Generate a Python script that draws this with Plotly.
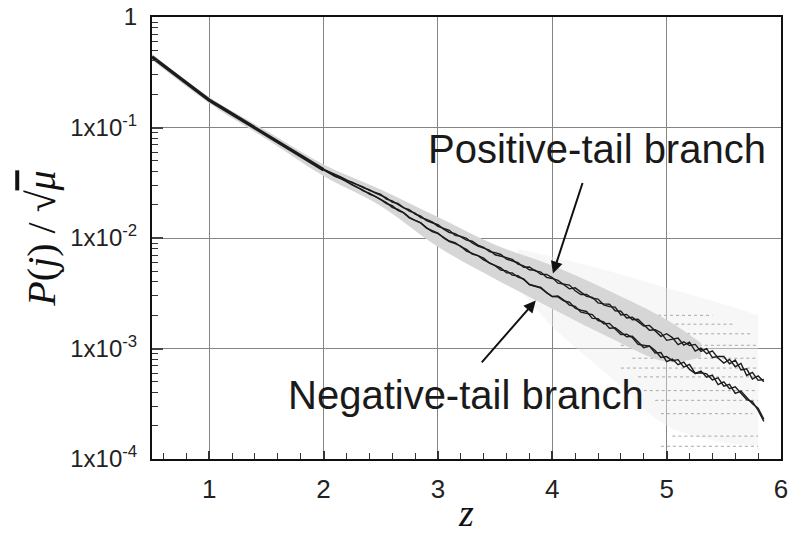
import plotly.graph_objects as go

# ---------------- data (log10 of P(j)/sqrt(mu)) ----------------
z_trunk = [0.5, 0.6, 0.7, 0.8, 0.9, 1.0, 1.1, 1.2, 1.3, 1.4, 1.5, 1.6, 1.7, 1.8, 1.9, 2.0]
lg_trunk = [-0.360, -0.438, -0.517, -0.595, -0.674, -0.752, -0.815, -0.878, -0.942,
            -1.005, -1.068, -1.130, -1.193, -1.255, -1.318, -1.382]

z_branch = [2.00, 2.05, 2.10, 2.15, 2.20, 2.25, 2.30, 2.35, 2.40, 2.45,
            2.50, 2.55, 2.60, 2.65, 2.70, 2.75, 2.80, 2.85, 2.90, 2.95,
            3.00, 3.05, 3.10, 3.15, 3.20, 3.25, 3.30, 3.35, 3.40, 3.45,
            3.50, 3.55, 3.60, 3.65, 3.70, 3.75, 3.80, 3.85, 3.90, 3.95,
            4.00, 4.05, 4.10, 4.15, 4.20, 4.25, 4.30, 4.35, 4.40, 4.45,
            4.50, 4.55, 4.60, 4.65, 4.70, 4.75, 4.80, 4.85, 4.90, 4.95,
            5.00, 5.05, 5.10, 5.15, 5.20, 5.25, 5.30, 5.35, 5.40, 5.45,
            5.50, 5.55, 5.60, 5.65, 5.70, 5.75, 5.80, 5.85]

lg_pos_a = [-1.380, -1.401, -1.429, -1.446, -1.474, -1.501, -1.519, -1.540, -1.569, -1.590,
            -1.605, -1.649, -1.664, -1.696, -1.728, -1.744, -1.783, -1.803, -1.843, -1.862,
            -1.880, -1.920, -1.950, -1.960, -1.990, -2.019, -2.029, -2.064, -2.084, -2.124,
            -2.133, -2.149, -2.191, -2.207, -2.224, -2.265, -2.262, -2.298, -2.308, -2.356,
            -2.366, -2.384, -2.426, -2.460, -2.451, -2.486, -2.528, -2.537, -2.587, -2.596,
            -2.599, -2.658, -2.663, -2.724, -2.718, -2.757, -2.796, -2.791, -2.841, -2.890,
            -2.866, -2.901, -2.965, -2.939, -2.973, -2.963, -3.027, -3.002, -3.082, -3.072,
            -3.072, -3.138, -3.105, -3.195, -3.184, -3.276, -3.248, -3.300]

lg_pos_b = [-1.380, -1.405, -1.425, -1.450, -1.478, -1.495, -1.521, -1.546, -1.563, -1.592,
            -1.613, -1.637, -1.676, -1.688, -1.724, -1.756, -1.775, -1.815, -1.831, -1.854,
            -1.895, -1.915, -1.930, -1.975, -1.985, -2.004, -2.044, -2.074, -2.089, -2.109,
            -2.152, -2.162, -2.178, -2.194, -2.237, -2.252, -2.288, -2.292, -2.328, -2.330,
            -2.358, -2.409, -2.417, -2.426, -2.477, -2.511, -2.511, -2.545, -2.553, -2.605,
            -2.621, -2.625, -2.696, -2.691, -2.740, -2.735, -2.785, -2.835, -2.830, -2.857,
            -2.926, -2.916, -2.905, -2.969, -2.943, -3.023, -2.997, -3.047, -3.022, -3.087,
            -3.132, -3.098, -3.165, -3.135, -3.244, -3.216, -3.288, -3.280]

lg_neg_a = [-1.381, -1.412, -1.442, -1.463, -1.487, -1.520, -1.545, -1.568, -1.602, -1.623,
            -1.652, -1.688, -1.707, -1.750, -1.773, -1.817, -1.840, -1.863, -1.906, -1.942,
            -1.960, -1.994, -2.027, -2.041, -2.079, -2.103, -2.146, -2.160, -2.183, -2.227,
            -2.250, -2.271, -2.316, -2.316, -2.355, -2.369, -2.421, -2.434, -2.454, -2.494,
            -2.530, -2.524, -2.561, -2.607, -2.618, -2.671, -2.682, -2.693, -2.747, -2.759,
            -2.817, -2.812, -2.852, -2.893, -2.889, -2.941, -2.992, -2.978, -3.018, -3.081,
            -3.073, -3.110, -3.101, -3.168, -3.144, -3.226, -3.219, -3.230, -3.285, -3.266,
            -3.341, -3.324, -3.407, -3.385, -3.442, -3.500, -3.540, -3.640]

lg_neg_b = [-1.383, -1.412, -1.440, -1.461, -1.493, -1.518, -1.543, -1.576, -1.594, -1.625,
            -1.656, -1.680, -1.723, -1.742, -1.769, -1.813, -1.840, -1.863, -1.910, -1.930,
            -1.955, -1.999, -2.032, -2.051, -2.074, -2.118, -2.136, -2.160, -2.198, -2.227,
            -2.250, -2.290, -2.297, -2.336, -2.342, -2.376, -2.421, -2.434, -2.447, -2.494,
            -2.530, -2.533, -2.569, -2.581, -2.635, -2.654, -2.665, -2.727, -2.730, -2.776,
            -2.773, -2.823, -2.874, -2.871, -2.900, -2.963, -2.970, -2.978, -3.040, -3.037,
            -3.118, -3.095, -3.146, -3.123, -3.189, -3.226, -3.204, -3.260, -3.240, -3.326,
            -3.301, -3.364, -3.347, -3.405, -3.462, -3.480, -3.560, -3.660]

# dense scatter cloud envelope
z_cloud = [0.5, 1.0, 1.5, 2.0, 2.5, 3.0, 3.5, 4.0, 4.5, 5.0, 5.3]
lg_cloud_hi = [-0.335, -0.725, -1.030, -1.335, -1.560, -1.810, -2.060, -2.250, -2.480, -2.740, -2.950]
lg_cloud_lo = [-0.390, -0.780, -1.105, -1.440, -1.710, -2.080, -2.370, -2.640, -2.900, -3.120, -3.080]

# sparse tail cloud envelope
z_sparse = [3.7, 4.0, 4.5, 5.0, 5.5, 5.8]
lg_sparse_hi = [-2.10, -2.17, -2.30, -2.45, -2.60, -2.70]
lg_sparse_lo = [-2.45, -2.80, -3.25, -3.70, -3.85, -3.88]

# horizontal streaks of discrete values in the tail (level, z start, z end)
streak_lg = [-2.700, -2.780, -2.867, -2.971, -3.088, -3.177, -3.257, -3.381, -3.469, -3.590, -3.793, -3.885]
streak_z0 = [4.40, 4.50, 4.55, 4.60, 4.70, 4.60, 4.75, 4.80, 4.90, 4.95, 5.05, 4.95]
streak_z1 = [5.40, 5.60, 5.75, 5.78, 5.80, 5.80, 5.80, 5.80, 5.80, 5.75, 5.80, 5.80]

# y tick decades
y_decades = [-4, -3, -2, -1, 0]
y_ticktext = ["1x10<sup>-4</sup>", "1x10<sup>-3</sup>", "1x10<sup>-2</sup>", "1x10<sup>-1</sup>", "1"]

# annotations (z, log10 P)
pos_label = ("Positive-tail branch", 4.388, -1.195)
neg_label = ("Negative-tail branch", 3.245, -3.420)
pos_arrow = (4.006, -2.321, 4.269, -1.489)   # tip z, tip lg, tail z, tail lg
neg_arrow = (3.856, -2.566, 3.372, -3.139)


def p(vals):
    return [10 ** v for v in vals]


fig = go.Figure()

# sparse cloud
fig.add_trace(go.Scatter(x=z_sparse, y=p(lg_sparse_hi), mode="lines", line_shape="spline",
                         line=dict(width=0), hoverinfo="skip", showlegend=False))
fig.add_trace(go.Scatter(x=z_sparse, y=p(lg_sparse_lo), mode="lines", fill="tonexty",
                         line_shape="spline", fillcolor="rgba(236,236,236,0.4)",
                         line=dict(width=0), hoverinfo="skip", showlegend=False))
# streaks
sx, sy = [], []
for lv, a, b in zip(streak_lg, streak_z0, streak_z1):
    sx += [a, b, None]
    sy += [10 ** lv, 10 ** lv, None]
fig.add_trace(go.Scatter(x=sx, y=sy, mode="lines",
                         line=dict(color="#a8a8a8", width=1, dash="dot"),
                         hoverinfo="skip", showlegend=False))
# dense cloud
fig.add_trace(go.Scatter(x=z_cloud, y=p(lg_cloud_hi), mode="lines", line_shape="spline",
                         line=dict(width=0), hoverinfo="skip", showlegend=False))
fig.add_trace(go.Scatter(x=z_cloud, y=p(lg_cloud_lo), mode="lines", fill="tonexty",
                         line_shape="spline", fillcolor="#d6d6d6", line=dict(width=0),
                         hoverinfo="skip", showlegend=False))

line_col = "#1c1c1c"
fig.add_trace(go.Scatter(x=z_trunk, y=p(lg_trunk), mode="lines",
                         line=dict(color=line_col, width=3.4), showlegend=False))
for arr in (lg_pos_a, lg_pos_b, lg_neg_a, lg_neg_b):
    fig.add_trace(go.Scatter(x=z_branch, y=p(arr), mode="lines",
                             line=dict(color=line_col, width=1.4), showlegend=False))

label_font = dict(family="Liberation Sans, Arial, sans-serif", size=40, color="#1a1a1a")
annotations = []
for text, zx, lg in (pos_label, neg_label):
    annotations.append(dict(x=zx, y=lg, xref="x", yref="y", text=text, showarrow=False,
                            font=label_font, xanchor="center", yanchor="middle"))
for tz, tl, az, al in (pos_arrow, neg_arrow):
    annotations.append(dict(x=tz, y=tl, xref="x", yref="y", ax=az, ay=al,
                            axref="x", ayref="y", text="", showarrow=True,
                            arrowhead=2, arrowsize=1.2, arrowwidth=2, arrowcolor="#111",
                            standoff=0, startstandoff=0))

tick_font = dict(family="Liberation Sans, Arial, sans-serif", size=24, color="#222")
title_font = dict(family="Liberation Serif, Times New Roman, serif", size=40, color="#111")

fig.update_layout(
    width=791, height=534,
    margin=dict(l=152, r=3, t=16, b=66),
    paper_bgcolor="white", plot_bgcolor="white",
    showlegend=False,
    annotations=annotations,
    xaxis=dict(
        range=[0.5, 6], dtick=1, tick0=0,
        showgrid=True, gridcolor="#858585", gridwidth=1,
        showline=True, mirror=True, linecolor="#111", linewidth=2,
        ticks="inside", ticklen=8, tickwidth=1.5, tickcolor="#333",
        minor=dict(dtick=0.2, tick0=0, ticks="inside", ticklen=6, tickwidth=1,
                   tickcolor="#333", showgrid=False),
        tickfont=dict(family="Liberation Sans, Arial, sans-serif", size=26, color="#222"),
        ticklabeloverflow="allow", ticklabelstandoff=6,
        zeroline=False,
        title=dict(text="<i>z</i>", font=dict(family="Liberation Serif, Times New Roman, serif",
                                              size=38, color="#111"), standoff=0),
    ),
    yaxis=dict(
        type="log", range=[-4, 0],
        tickmode="array", tickvals=[10 ** d for d in y_decades], ticktext=y_ticktext,
        showgrid=True, gridcolor="#858585", gridwidth=1,
        showline=True, mirror=True, linecolor="#111", linewidth=2,
        ticks="inside", ticklen=11, tickwidth=2, tickcolor="#444",
        minor=dict(tickvals=[m * 10 ** d for d in y_decades[:-1] for m in range(2, 10)],
                   ticks="inside", ticklen=6, tickwidth=1.3, tickcolor="#333", showgrid=False),
        tickfont=tick_font, ticklabelstandoff=8,
        zeroline=False,
        title=dict(text="<i>P</i>(<i>j</i>) / √<span style='text-decoration:overline'><i>μ</i></span>",
                   font=title_font, standoff=2),
    ),
)

fig.write_html("out.html")
